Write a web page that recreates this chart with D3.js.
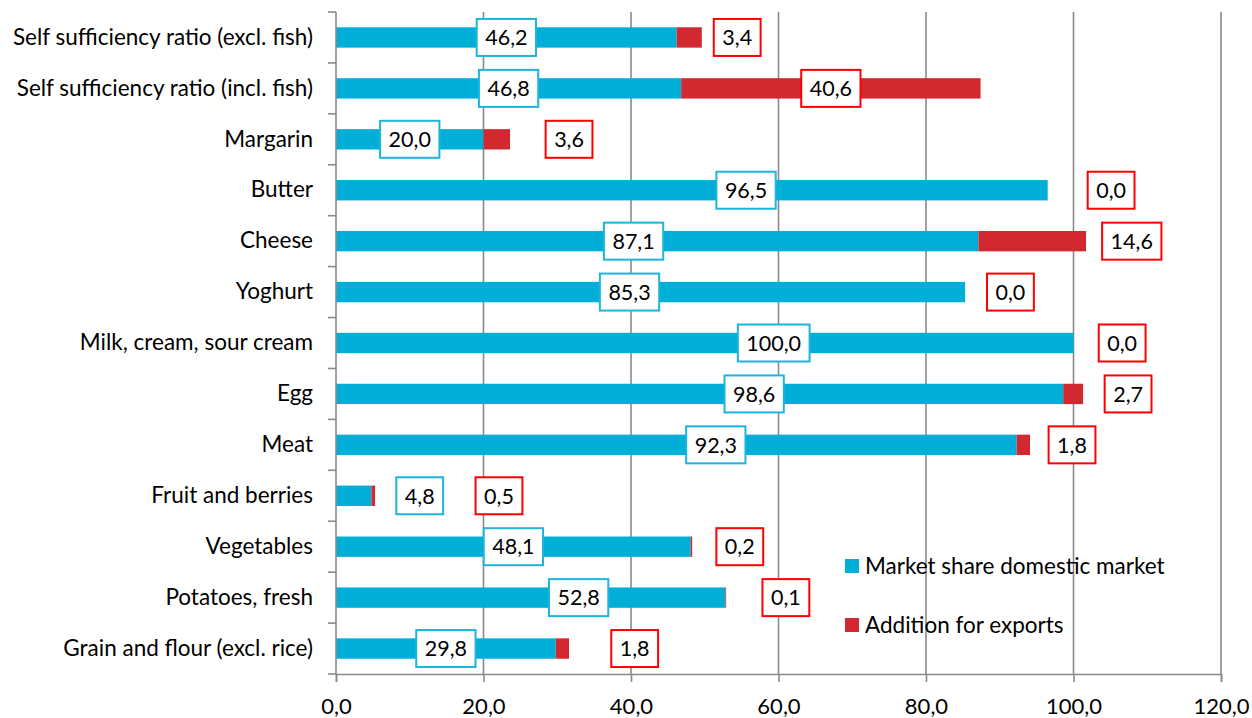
<!DOCTYPE html>
<html>
<head>
<meta charset="utf-8">
<script src="https://cdn.jsdelivr.net/npm/d3@7"></script>
<style>
  body { margin: 0; background: #fff; }
  text { font-family: Lato, "Open Sans", sans-serif; fill: #000; }
</style>
</head>
<body>
<div class="bar-chart"></div>
<script>
const categories = [
  "Self sufficiency ratio (excl. fish)",
  "Self sufficiency ratio (incl. fish)",
  "Margarin",
  "Butter",
  "Cheese",
  "Yoghurt",
  "Milk, cream, sour cream",
  "Egg",
  "Meat",
  "Fruit and berries",
  "Vegetables",
  "Potatoes, fresh",
  "Grain and flour (excl. rice)"
];
const domestic = [46.2, 46.8, 20.0, 96.5, 87.1, 85.3, 100.0, 98.6, 92.3, 4.8, 48.1, 52.8, 29.8];
const exports = [3.4, 40.6, 3.6, 0.0, 14.6, 0.0, 0.0, 2.7, 1.8, 0.5, 0.2, 0.1, 1.8];
const xTicks = [0, 20, 40, 60, 80, 100, 120];
const seriesNames = ["Market share domestic market", "Addition for exports"];

// where the data labels were dragged to in the original (value units)
const domesticLabelAt = [23.1, 23.4, 10.0, 55.6, 40.35, 39.8, 59.35, 56.7, 51.5, 11.35, 24.05, 32.9, 14.9];
const exportLabelAt = [54.4, 67.1, 31.6, 105.1, 107.9, 91.45, 106.6, 107.4, 99.8, 22.1, 54.75, 61.0, 40.5];

const blue = "#00afd7", red = "#d2282f";
const blueLine = "#1fb4de", redLine = "#ff0000", gray = "#8a8a8a";

const margin = { top: 12, right: 31, bottom: 44, left: 336 };
const width = 1252 - margin.left - margin.right;
const height = 718 - margin.top - margin.bottom;

const fmt = v => d3.format(".1f")(v).replace(".", ",");

const x = d3.scaleLinear().domain([0, 120]).range([0, width]);
const y = d3.scaleBand().domain(categories).range([0, height]).paddingInner(0.6).paddingOuter(0.3);

const svg = d3.select(".bar-chart").append("svg")
  .attr("width", 1252).attr("height", 718)
  .append("g")
  .attr("transform", "translate(" + margin.left + "," + margin.top + ")");

// vertical gridlines
svg.selectAll(".grid").data(xTicks.slice(1)).enter().append("line")
  .attr("x1", d => x(d)).attr("x2", d => x(d))
  .attr("y1", 0).attr("y2", height)
  .attr("stroke", gray).attr("stroke-width", 1.6);

const rows = categories.map((c, i) => ({ c, dom: domestic[i], exp: exports[i], dl: domesticLabelAt[i], el: exportLabelAt[i] }));

svg.selectAll(".bar-dom").data(rows).enter().append("rect")
  .attr("x", x(0))
  .attr("y", d => y(d.c))
  .attr("width", d => x(d.dom) - x(0))
  .attr("height", y.bandwidth())
  .attr("fill", blue);

svg.selectAll(".bar-exp").data(rows).enter().append("rect")
  .attr("x", d => x(d.dom))
  .attr("y", d => y(d.c))
  .attr("width", d => x(d.dom + d.exp) - x(d.dom))
  .attr("height", y.bandwidth())
  .attr("fill", red);

// x axis
const xAxis = svg.append("g")
  .attr("transform", "translate(0," + height + ")")
  .call(d3.axisBottom(x).tickValues(xTicks).tickFormat(fmt).tickSize(8).tickPadding(16));
xAxis.select(".domain").attr("stroke", gray).attr("stroke-width", 1.6);
xAxis.selectAll(".tick line").attr("stroke", gray).attr("stroke-width", 1.6);
xAxis.selectAll("text").style("font-size", "22px").style("font-family", "Lato, sans-serif");

// y axis: labels at band centres, tick marks between bands
const yAxis = svg.append("g")
  .call(d3.axisLeft(y).tickSize(0).tickPadding(23));
yAxis.select(".domain").remove();
yAxis.selectAll("text").style("font-size", "22.5px").style("font-family", "Lato, sans-serif");

svg.append("line").attr("x1", 0).attr("x2", 0).attr("y1", 0).attr("y2", height)
  .attr("stroke", gray).attr("stroke-width", 1.6);
svg.selectAll(".ytick").data(d3.range(categories.length + 1)).enter().append("line")
  .attr("x1", -8).attr("x2", 0)
  .attr("y1", d => d * y.step()).attr("y2", d => d * y.step())
  .attr("stroke", gray).attr("stroke-width", 1.6);

// boxed data labels
function boxLabel(g, cx, cy, txt, stroke) {
  const grp = g.append("g");
  const r = grp.append("rect");
  const t = grp.append("text")
    .attr("x", cx).attr("y", cy)
    .attr("text-anchor", "middle").attr("dy", "0.36em")
    .style("font-size", "21.5px")
    .text(txt);
  const w = t.node().getComputedTextLength() + 17;
  r.attr("x", cx - w / 2).attr("y", cy - 18.5)
    .attr("width", w).attr("height", 37)
    .attr("fill", "#fff").attr("stroke", stroke).attr("stroke-width", 2);
}

const labels = svg.append("g");
rows.forEach(d => {
  const cy = y(d.c) + y.bandwidth() / 2;
  boxLabel(labels, x(d.dl), cy, fmt(d.dom), blueLine);
  boxLabel(labels, x(d.el), cy, fmt(d.exp), redLine);
});

// legend
const legend = svg.append("g").attr("transform", "translate(" + (845 - margin.left) + "," + (559 - margin.top) + ")");
seriesNames.forEach((name, i) => {
  const row = legend.append("g").attr("transform", "translate(0," + i * 59 + ")");
  row.append("rect").attr("width", 14).attr("height", 14).attr("fill", i === 0 ? blue : red);
  row.append("text").attr("x", 20).attr("y", 7).attr("dy", "0.36em")
    .style("font-size", "22.5px").text(name);
});
</script>
</body>
</html>
